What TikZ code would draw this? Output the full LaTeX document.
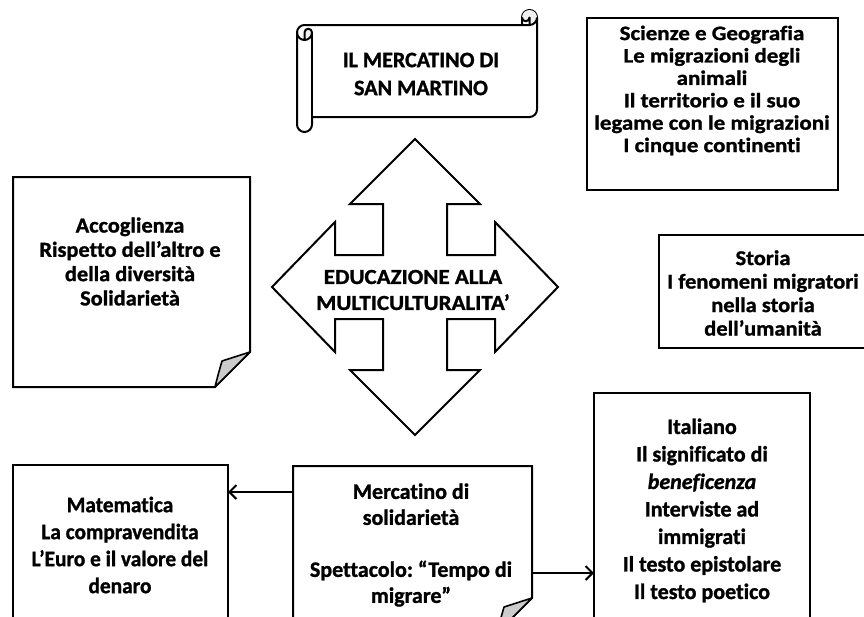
\documentclass[tikz,border=0pt]{standalone}
\usepackage{fontspec}
\setmainfont{Carlito}[Ligatures=NoCommon, BoldFeatures={FakeBold=1.2}, BoldItalicFeatures={FakeBold=1.2}]
\newfontfamily\wideA{Carlito}[Ligatures=NoCommon, FakeStretch=1.12, BoldFeatures={FakeBold=1.2}]
\newfontfamily\wideB{Carlito}[Ligatures=NoCommon, FakeStretch=1.07, BoldFeatures={FakeBold=1.2}]
\newfontfamily\wideC{Carlito}[Ligatures=NoCommon, FakeStretch=1.04, BoldFeatures={FakeBold=1.2}]
\newfontfamily\narrowA{Carlito}[Ligatures=NoCommon, FakeStretch=0.97, BoldFeatures={FakeBold=1.2}]
\usetikzlibrary{arrows.meta}
\frenchspacing
\tikzset{
  box/.style={draw, line width=2pt, fill=white, inner sep=0pt, outer sep=0pt},
  foldbox/.style={inner sep=0pt, outer sep=0pt},
  edge/.style={line width=2pt, line join=miter},
  flap/.style={line width=1.6pt, fill=gray!40, line join=round},
  lbl/.style={align=center, inner sep=0pt},
  arr/.style={line width=2pt, -{Straight Barb[length=7pt, width=14pt, line width=2pt]}},
}
\newcommand{\fs}[2]{\bfseries\fontsize{#1}{#2}\selectfont}
\begin{document}
\begin{tikzpicture}[x=1pt, y=-1pt]
\useasboundingbox (0,0) rectangle (864,616);
\clip (0,0) rectangle (864,616);
\fill[white] (0,0) rectangle (864,616);

% scroll
\begin{scope}[shift={(297,10)}]
  \filldraw[edge, fill=white, line join=round] (0,22.5) arc[start angle=180, delta angle=90, radius=7.5]
    -- (225,15) -- (225,7.5) arc[start angle=180, delta angle=180, radius=7.5]
    -- (240,99.5) arc[start angle=0, delta angle=90, radius=7.5]
    -- (15,107) -- (15,114.5) arc[start angle=0, delta angle=180, radius=7.5] -- cycle;
  \fill[gray!12] (7.5,30) arc[start angle=90, delta angle=-90, radius=7.5]
    arc[start angle=0, delta angle=-180, radius=3.75] -- cycle;
  \fill[gray!12] (232.5,15) arc[start angle=90, delta angle=-270, radius=7.5]
    arc[start angle=180, delta angle=-180, radius=3.75] -- cycle;
  \draw[edge, line join=round] (225,15) -- (232.5,15) arc[start angle=90, delta angle=-90, radius=7.5];
  \draw[edge, line join=round] (232.5,15) -- (232.5,7.5) arc[start angle=0, delta angle=180, radius=3.75];
  \draw[edge, line join=round] (7.5,30) -- (7.5,22.5) arc[start angle=180, delta angle=180, radius=3.75]
    arc[start angle=0, delta angle=180, radius=7.5];
  \draw[edge] (15,22.5) -- (15,107);
\end{scope}
\node[lbl, font=\fs{22}{28}] (title) at (421,74) {IL MERCATINO DI\\SAN MARTINO};

% quad arrow
\begin{scope}[shift={(415,287)}]
  \filldraw[edge, fill=white] (0,-148) -- (65,-83) -- (32,-83) -- (32,-32) -- (80,-32) -- (80,-65)
    -- (143,0) -- (80,65) -- (80,32) -- (32,32) -- (32,83) -- (65,83) -- (0,148)
    -- (-65,83) -- (-32,83) -- (-32,32) -- (-80,32) -- (-80,65) -- (-143,0)
    -- (-80,-65) -- (-80,-32) -- (-32,-32) -- (-32,-83) -- (-65,-83) -- cycle;
\end{scope}
\node[lbl, font={\wideB\fs{21.5}{26}}] (edu) at (413,290) {EDUCAZIONE ALLA\\MULTICULTURALITA’};

% Accoglienza (folded corner)
\node[foldbox, minimum width=237pt, minimum height=210pt] (acc) at (131.5,282) {};
\draw[edge, fill=white] (acc.north west) -- (acc.north east) -- ([yshift=35pt]acc.south east)
  -- ([xshift=-35pt]acc.south east) -- (acc.south west) -- cycle;
\draw[flap] ([xshift=-35pt]acc.south east) .. controls ([xshift=-32pt,yshift=12pt]acc.south east)
  .. ([xshift=-28pt,yshift=26pt]acc.south east) .. controls ([xshift=-14pt,yshift=30pt]acc.south east)
  .. ([yshift=35pt]acc.south east) -- cycle;
\node[lbl, font={\wideC\fs{21.5}{24.3}}] (acct) at (130,261.5) {Accoglienza\\Rispetto dell’altro e\\della diversità\\Solidarietà};

% Scienze
\node[box, minimum width=251pt, minimum height=172pt] (sci) at (712.5,104) {};
\node[lbl, font={\wideA\fs{20.5}{22.4}}] (scit) at (712,90.5) {Scienze e Geografia\\Le migrazioni degli\\animali\\Il territorio e il suo\\legame con le migrazioni\\I cinque continenti};

% Storia
\node[box, minimum width=211pt, minimum height=113pt] (sto) at (764.5,291.5) {};
\node[lbl, font={\wideB\fs{21}{23.5}}] (stot) at (763,293) {Storia\\I fenomeni migratori\\nella storia\\dell’umanità};

% Italiano
\node[box, minimum width=216pt, minimum height=247pt] (ita) at (702,516.5) {};
\node[lbl, font=\fs{22}{27.5}] (itat) at (702,510.5) {Italiano\\Il significato di\\\textit{beneficenza}\\Interviste ad\\immigrati\\Il testo epistolare\\Il testo poetico};

% Matematica
\node[box, minimum width=215pt, minimum height=175pt] (mat) at (120.5,552.5) {};
\node[lbl, font={\narrowA\fs{22}{27}}] (matt) at (120,545) {Matematica\\La compravendita\\L’Euro e il valore del\\denaro};

% Mercatino (folded corner)
\node[foldbox, minimum width=239pt, minimum height=167pt] (merc) at (412.5,549.5) {};
\draw[edge, fill=white] (merc.north west) -- (merc.north east) -- ([yshift=35pt]merc.south east)
  -- ([xshift=-35pt]merc.south east) -- (merc.south west) -- cycle;
\draw[flap] ([xshift=-35pt]merc.south east) .. controls ([xshift=-32pt,yshift=12pt]merc.south east)
  .. ([xshift=-28pt,yshift=26pt]merc.south east) .. controls ([xshift=-14pt,yshift=30pt]merc.south east)
  .. ([yshift=35pt]merc.south east) -- cycle;
\node[lbl, font=\fs{22}{26}] (merct) at (411,545) {Mercatino di\\solidarietà\\[26pt]Spettacolo: “Tempo di\\migrare”};

% connectors
\coordinate (ya) at (0,492);
\coordinate (yb) at (0,573);
\draw[arr] (merc.west |- ya) -- (mat.east |- ya);
\draw[arr] (merc.east |- yb) -- (ita.west |- yb);
\end{tikzpicture}
\end{document}
